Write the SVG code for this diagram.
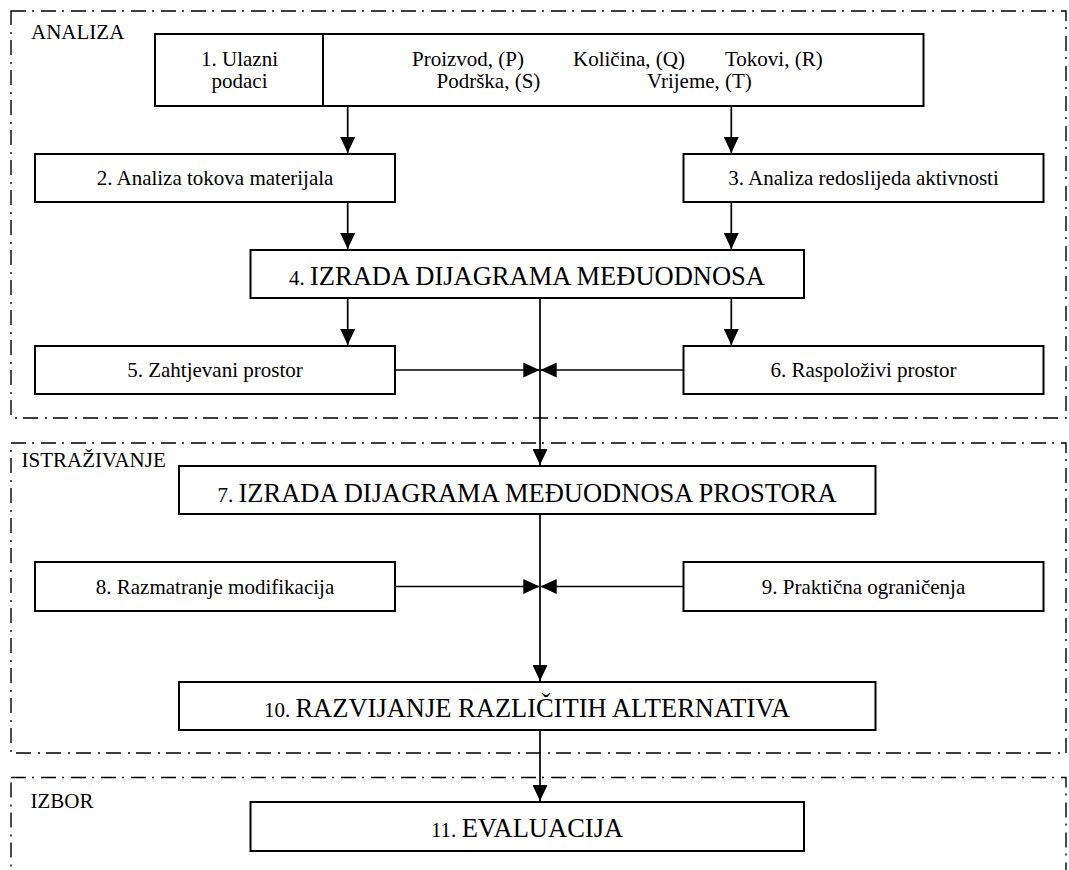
<svg xmlns="http://www.w3.org/2000/svg" width="1069" height="870" viewBox="0 0 1069 870" font-family="'Liberation Serif', 'DejaVu Serif', serif">
<style>
.grp { fill: none; stroke: #000; stroke-width: 1.4; stroke-dasharray: 15 6 2 7; }
.box { fill: #fff; stroke: #000; stroke-width: 2; }
text { font-family: 'Liberation Serif', 'DejaVu Serif', serif; font-size: 21px; fill: #000; }
.c { text-anchor: middle; }
.big { font-size: 26.5px; }
.conn { fill: none; stroke: #000; stroke-width: 1.7; }
</style>
<defs>
<marker id="ah" markerUnits="userSpaceOnUse" markerWidth="16" markerHeight="15" viewBox="0 0 16 15" refX="16" refY="7.5" orient="auto">
<path d="M0,0 L16,7.5 L0,15 z" fill="#000"/>
</marker>
</defs>
<rect width="1069" height="870" fill="#fff"/>

<g id="group-analiza">
<rect class="grp" x="11" y="11" width="1055" height="407"/>
<text x="31" y="39">ANALIZA</text>
</g>
<g id="group-istrazivanje">
<rect class="grp" x="11" y="443" width="1055" height="310"/>
<text x="21.5" y="466.5">ISTRAŽIVANJE</text>
</g>
<g id="group-izbor">
<rect class="grp" x="11" y="777.5" width="1055" height="140"/>
<text x="30.5" y="807.5">IZBOR</text>
</g>

<g id="connectors">
<line class="conn" x1="347.7" y1="106" x2="347.7" y2="153" marker-end="url(#ah)"/>
<line class="conn" x1="731.3" y1="106" x2="731.3" y2="153" marker-end="url(#ah)"/>
<line class="conn" x1="347.7" y1="202" x2="347.7" y2="249" marker-end="url(#ah)"/>
<line class="conn" x1="731.3" y1="202" x2="731.3" y2="249" marker-end="url(#ah)"/>
<line class="conn" x1="347.7" y1="298" x2="347.7" y2="345" marker-end="url(#ah)"/>
<line class="conn" x1="731.3" y1="298" x2="731.3" y2="345" marker-end="url(#ah)"/>
<line class="conn" x1="540" y1="298" x2="540" y2="465" marker-end="url(#ah)"/>
<line class="conn" x1="395" y1="370" x2="539.3" y2="370" marker-end="url(#ah)"/>
<line class="conn" x1="683.5" y1="370" x2="540.7" y2="370" marker-end="url(#ah)"/>
<line class="conn" x1="540" y1="514" x2="540" y2="681" marker-end="url(#ah)"/>
<line class="conn" x1="395" y1="586.5" x2="539.3" y2="586.5" marker-end="url(#ah)"/>
<line class="conn" x1="683.5" y1="586.5" x2="540.7" y2="586.5" marker-end="url(#ah)"/>
<line class="conn" x1="540" y1="730" x2="540" y2="801" marker-end="url(#ah)"/>
</g>

<g id="node1">
<rect class="box" x="155" y="34" width="768.5" height="72"/>
<line class="conn" x1="323" y1="34" x2="323" y2="106" style="stroke-width:2"/>
<text class="c" x="239.5" y="65.5">1. Ulazni</text>
<text class="c" x="239.5" y="88">podaci</text>
<text x="412" y="65.5">Proizvod, (P)</text>
<text x="573" y="65.5">Količina, (Q)</text>
<text x="725" y="65.5">Tokovi, (R)</text>
<text x="436.5" y="88">Podrška, (S)</text>
<text x="647" y="88">Vrijeme, (T)</text>
</g>
<g id="node2">
<rect class="box" x="35" y="154" width="360" height="48"/>
<text class="c" x="215" y="184.5">2. Analiza tokova materijala</text>
</g>
<g id="node3">
<rect class="box" x="683.5" y="154" width="360" height="48"/>
<text class="c" x="863.5" y="184.5">3. Analiza redoslijeda aktivnosti</text>
</g>
<g id="node4">
<rect class="box" x="250.5" y="250" width="553.5" height="48"/>
<text class="c" x="527" y="285"><tspan>4. </tspan><tspan class="big">IZRADA DIJAGRAMA MEĐUODNOSA</tspan></text>
</g>
<g id="node5">
<rect class="box" x="35" y="346" width="360" height="48"/>
<text class="c" x="215" y="377">5. Zahtjevani prostor</text>
</g>
<g id="node6">
<rect class="box" x="683.5" y="346" width="360" height="48"/>
<text class="c" x="863.5" y="377">6. Raspoloživi prostor</text>
</g>
<g id="node7">
<rect class="box" x="179" y="466" width="696.5" height="48"/>
<text class="c" x="527" y="501.5"><tspan>7. </tspan><tspan class="big">IZRADA DIJAGRAMA MEĐUODNOSA PROSTORA</tspan></text>
</g>
<g id="node8">
<rect class="box" x="35" y="562" width="360" height="49"/>
<text class="c" x="215" y="593.5">8. Razmatranje modifikacija</text>
</g>
<g id="node9">
<rect class="box" x="683.5" y="562" width="360" height="49"/>
<text class="c" x="863.5" y="593.5">9. Praktična ograničenja</text>
</g>
<g id="node10">
<rect class="box" x="179" y="682" width="696.5" height="48"/>
<text class="c" x="527" y="716.5"><tspan>10. </tspan><tspan class="big">RAZVIJANJE RAZLIČITIH ALTERNATIVA</tspan></text>
</g>
<g id="node11">
<rect class="box" x="250.5" y="802" width="553.5" height="49"/>
<text class="c" x="527" y="836.5"><tspan>11. </tspan><tspan class="big">EVALUACIJA</tspan></text>
</g>
</svg>
